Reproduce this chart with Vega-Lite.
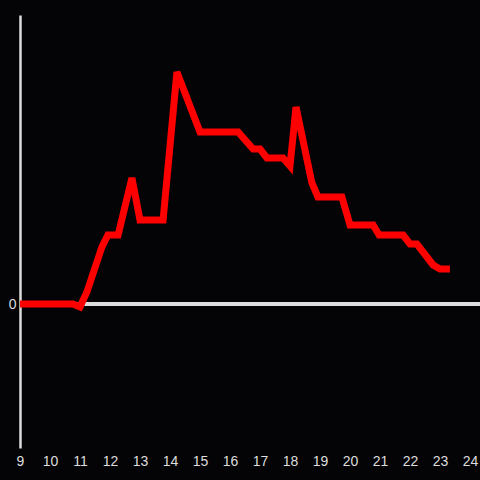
{
  "$schema": "https://vega.github.io/schema/vega-lite/v6.json",
  "width": 460,
  "height": 433,
  "autosize": "none",
  "padding": {"left": 20, "top": 15, "right": 0, "bottom": 32},
  "background": "#040306",
  "config": {"view": {"stroke": null}, "axis": {"grid": false}},
  "data": {"values": [
    {"x": 9, "y": 0}, {"x": 10.77, "y": 0}, {"x": 11, "y": -3}, {"x": 11.23, "y": 12},
    {"x": 11.73, "y": 57}, {"x": 11.93, "y": 69}, {"x": 12.27, "y": 69}, {"x": 12.73, "y": 126},
    {"x": 13, "y": 84}, {"x": 13.77, "y": 84}, {"x": 14.23, "y": 232}, {"x": 15, "y": 172},
    {"x": 16.27, "y": 172}, {"x": 16.77, "y": 155}, {"x": 17, "y": 155}, {"x": 17.23, "y": 146},
    {"x": 17.77, "y": 146}, {"x": 18, "y": 138}, {"x": 18.2, "y": 197}, {"x": 18.73, "y": 121},
    {"x": 18.93, "y": 107}, {"x": 19.73, "y": 107}, {"x": 20, "y": 79}, {"x": 20.77, "y": 79},
    {"x": 20.97, "y": 69}, {"x": 21.77, "y": 69}, {"x": 22, "y": 60}, {"x": 22.23, "y": 60},
    {"x": 22.77, "y": 39}, {"x": 23, "y": 35}, {"x": 23.33, "y": 35}
  ]},
  "layer": [
    {
      "mark": {"type": "rule", "color": "#dddddd", "strokeWidth": 2.5},
      "encoding": {"y": {"datum": 0, "type": "quantitative", "scale": {"domain": [-144, 289]}}}
    },
    {
      "mark": {"type": "line", "color": "#ff0000", "strokeWidth": 7, "strokeJoin": "miter", "strokeCap": "butt"},
      "encoding": {
        "x": {"field": "x", "type": "quantitative", "scale": {"domain": [9, 24.333], "nice": false, "zero": false},
          "axis": {"title": null, "values": [9,10,11,12,13,14,15,16,17,18,19,20,21,22,23,24], "domain": false, "ticks": false,
            "labelColor": "#dddddd", "labelFont": "Liberation Sans", "labelFontSize": 14, "labelPadding": 6, "labelFlush": false, "labelBound": false, "labelOverlap": false}},
        "y": {"field": "y", "type": "quantitative", "scale": {"domain": [-144, 289], "nice": false, "zero": false},
          "axis": {"title": null, "values": [0], "domain": true, "domainColor": "#dddddd", "domainWidth": 2.5, "ticks": false,
            "labelColor": "#dddddd", "labelFont": "Liberation Sans", "labelFontSize": 14, "labelPadding": 4}}
      }
    }
  ]
}
